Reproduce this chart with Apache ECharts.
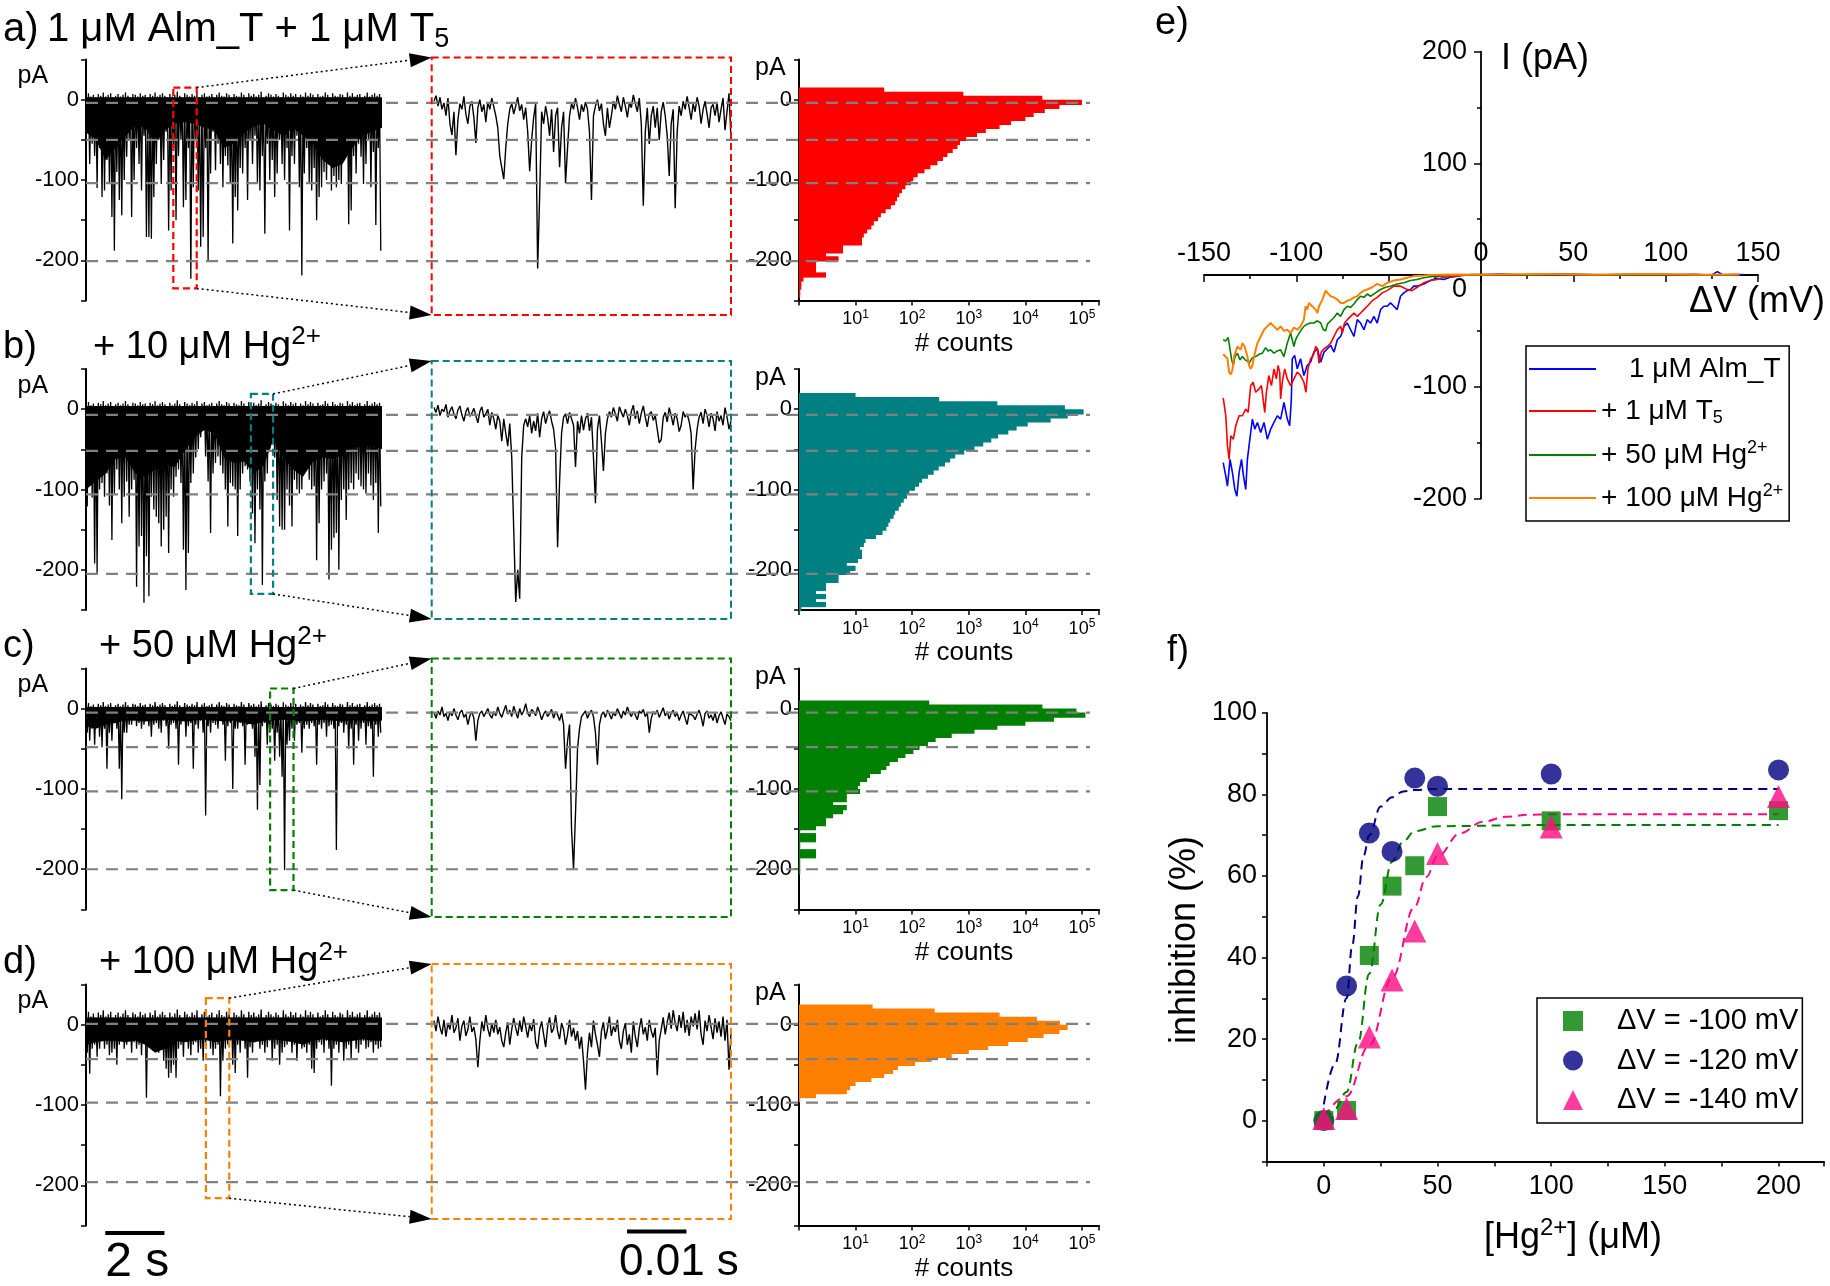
<!DOCTYPE html>
<html>
<head>
<meta charset="utf-8">
<title>Alm_T / Hg2+ traces</title>
<script src="https://cdn.jsdelivr.net/npm/echarts@6/dist/echarts.min.js"></script>
<style>
html, body { margin: 0; padding: 0; background: #fff; }
#main { width: 1830px; height: 1286px; }
</style>
</head>
<body>
<div id="main"></div>
<script>
var FONT = "'Liberation Sans', Arial, Helvetica, sans-serif";

// ---------- a-d : full 10 s traces (pA), 120 slots, top and bottom of each slot ----------
var hiA = [5,8,4,6,3,7,5,9,4,6,8,3,5,7,4,6,9,5,3,7, 6,4,8,5,6,3,7,5,9,4,6,8,5,3,7,4,6,10,5,3,
  8,6,4,7,5,9,3,6,8,4,5,7,3,6,9,5,4,8,6,3, 7,5,4,9,6,3,8,5,7,4,6,10,3,5,8,6,4,7,5,3,
  9,6,4,8,5,7,3,6,4,9,5,8,6,3,7,4,5,9,6,3, 8,5,4,7,6,3,9,5,8,4,6,7,3,5,9,4,6,8,5,7];
var loA = [-40,-80,-55,-70,-110,-60,-121,-113,-75,-105,-146,-188,-90,-125,-144,-100,-71,-50,-146,-100,
  -60,-80,-113,-45,-171,-171,-173,-121,-80,-50,-105,-75,-40,-163,-113,-60,-150,-70,-50,-134,
  -125,-60,-223,-109,-50,-113,-183,-171,-60,-202,-92,-40,-88,-55,-80,-109,-70,-82,-105,-179,
  -121,-138,-85,-92,-60,-125,-50,-80,-45,-105,-113,-70,-167,-55,-100,-75,-121,-92,-50,-80,
  -100,-60,-163,-70,-80,-45,-109,-219,-92,-60,-105,-113,-85,-150,-121,-109,-90,-100,-80,-113,
  -95,-109,-100,-105,-75,-60,-155,-138,-70,-92,-55,-71,-105,-80,-50,-109,-65,-156,-60,-188];
var hiB = [6,9,5,7,4,8,6,10,5,7,9,4,6,8,5,7,10,6,4,8, 7,5,9,6,7,4,8,6,10,5,7,9,6,4,8,5,7,11,6,4,
  9,7,5,8,6,10,4,7,9,5,6,8,4,7,10,6,5,9,7,4, 8,6,5,10,7,4,9,6,8,5,7,11,4,6,9,7,5,8,6,4,
  10,7,5,9,6,8,4,7,5,10,6,9,7,4,8,5,6,10,7,4, 9,6,5,8,7,4,10,6,9,5,7,8,4,6,10,5,7,9,6,8];
var loB = [-121,-90,-110,-192,-204,-100,-92,-109,-80,-120,-163,-105,-75,-100,-142,-109,-90,-134,-100,-88,
  -221,-171,-158,-241,-183,-233,-109,-125,-134,-142,-171,-150,-134,-179,-100,-109,-84,-75,-92,-175,
  -225,-179,-92,-80,-60,-50,-35,-26,-59,-90,-154,-80,-67,-59,-70,-80,-100,-146,-92,-96,
  -100,-158,-100,-80,-71,-75,-90,-130,-167,-100,-125,-219,-90,-80,-50,-26,-60,-113,-146,-150,
  -150,-100,-120,-146,-88,-100,-105,-100,-80,-75,-88,-100,-96,-188,-142,-100,-90,-80,-212,-175,
  -160,-154,-200,-113,-100,-138,-100,-92,-100,-80,-88,-96,-100,-105,-80,-95,-113,-92,-154,-121];
var hiC = [4,7,3,5,2,6,4,8,3,5,7,2,4,6,3,5,8,4,2,6, 5,3,7,4,5,2,6,4,8,3,5,7,4,2,6,3,5,9,4,2,
  7,5,3,6,4,8,2,5,7,3,4,6,2,5,8,4,3,7,5,2, 6,4,3,8,5,2,7,4,6,3,5,9,2,4,7,5,3,6,4,2,
  8,5,3,7,4,6,2,5,3,8,4,7,5,2,6,3,4,8,5,2, 7,4,3,6,5,2,8,4,7,3,5,6,2,4,8,3,5,7,4,6];
var loC = [-30,-40,-25,-45,-20,-35,-48,-25,-75,-30,-40,-18,-25,-75,-113,-30,-30,-20,-20,-15,
  -22,-18,-25,-20,-15,-22,-35,-20,-18,-25,-30,-15,-22,-50,-20,-18,-25,-70,-20,-15,
  -35,-22,-18,-75,-20,-25,-15,-30,-133,-22,-30,-18,-20,-25,-15,-20,-65,-22,-18,-100,
  -25,-25,-18,-22,-70,-20,-15,-25,-60,-126,-95,-22,-18,-45,-30,-25,-65,-30,-60,-85,
  -201,-45,-40,-25,-40,-20,-18,-55,-25,-20,-25,-18,-22,-70,-20,-25,-18,-35,-22,-20,
  -25,-176,-22,-18,-30,-20,-50,-25,-70,-20,-40,-25,-18,-45,-22,-25,-85,-20,-35,-30];
var hiD = [12,16,10,14,9,15,12,18,10,13,16,9,12,15,10,14,18,12,9,15, 13,10,16,12,14,9,15,12,18,10,13,16,12,9,15,10,14,19,12,9,
  16,13,10,15,12,18,9,13,16,10,12,15,9,13,18,12,10,16,13,9, 15,12,10,18,13,9,16,12,15,10,13,19,9,12,16,13,10,15,12,9,
  18,13,10,16,12,15,9,13,10,18,12,16,13,9,15,10,12,18,13,9, 16,12,10,15,13,9,18,12,16,10,13,15,9,12,18,10,13,16,12,15];
var loD = [-35,-61,-30,-25,-40,-30,-20,-30,-25,-38,-35,-30,-50,-25,-20,-30,-25,-20,-35,-22,
  -30,-25,-38,-20,-91,-28,-25,-30,-20,-35,-25,-45,-55,-66,-60,-50,-66,-30,-25,-40,
  -20,-30,-38,-25,-22,-35,-30,-45,-25,-20,-30,-38,-30,-25,-89,-45,-30,-25,-20,-50,
  -60,-25,-35,-20,-30,-66,-28,-35,-22,-20,-30,-25,-35,-28,-20,-45,-30,-25,-50,-35,
  -28,-25,-20,-35,-25,-45,-20,-30,-28,-35,-25,-55,-60,-30,-22,-25,-35,-20,-30,-76,
  -30,-25,-35,-20,-45,-30,-25,-42,-20,-30,-35,-25,-20,-30,-28,-22,-35,-25,-30,-28];
// solid core of each trace (lower edge, pA) every 1/3 s, and its upper edge
var coreA = [-41,-50,-75,-60,-45,-33,-35,-55,-38,-30,-28,-30,-35,-38,-60,-55,-42,-33,-30,-38,-45,-35,-45,-55,-75,-85,-80,-60,-45,-40,-35];
var coreB = [-100,-90,-80,-62,-60,-80,-84,-75,-70,-72,-52,-35,-26,-30,-60,-67,-65,-80,-70,-38,-60,-75,-84,-65,-60,-62,-58,-48,-46,-45,-50];
var coreC = [-22,-25,-20,-18,-15,-15,-16,-15,-14,-15,-16,-15,-14,-15,-16,-15,-18,-20,-16,-15,-14,-15,-16,-15,-14,-15,-16,-15,-15,-16,-15];
var coreD = [-25,-22,-20,-20,-22,-20,-25,-35,-30,-20,-22,-20,-18,-22,-20,-18,-20,-22,-20,-18,-20,-22,-25,-20,-18,-20,-22,-20,-18,-20,-20];
var coreTop = [3, 4, 2, 9];

// ---------- zoomed 0.05 s windows (pA) ----------
var zoomA = [-2,5,-8,3,-12,-4,-20,2,-30,-44,-15, -69,-25,-5,-12,4,-18,-30,-8,-2,-22,
  -54,-10,0,-15,-6,-28,-3,-12,2,-9, -20,-35,-70,-85,-99,-60,-30,-12,-5,-18,
  -8,3,-14,-6,-25,-10,-40,-89,-50,-22, -5,-210,-120,-15,-30,-8,-22,-45,-12,-65,
  -20,-10,-84,-35,-15,-104,-60,-20,-5,-12, 2,-10,-25,-6,-15,-3,-12,-40,-125,-20,
  -8,0,-14,-5,-30,-45,-10,-35,-20,-2, -12,5,-6,-15,3,-8,-22,-4,-10,6,
  -5,-15,2,-30,-132,-40,-10,-55,-20,-8, -35,-10,-50,-15,-3,-20,-45,-95,-30,-12,
  -135,-40,-8,-20,-2,-12,4,-10,-25,-5, -15,3,-8,-30,-12,-2,-18,-35,-10,-6,
  -20,-4,-28,-12,2,-38,-15,8,-49];
var zoomB = [2,-4,5,-8,0,-3,6,-10,-2,3,-6, -12,-1,4,-7,-15,-3,2,-9,-5,1,
  -8,-17,-3,3,-10,-6,0,-20,-4,-12, -25,-8,-15,-40,-12,-30,-46,-18,-60,-150,
  -240,-200,-236,-60,-20,-12,-22,-8,-30,-15, -27,-5,-35,-12,-3,-18,-8,-2,-15,-25,
  -49,-172,-90,-30,-10,-6,-18,-4,-12,-20, -72,-15,-30,-8,-26,-12,-5,-27,-10,-60,
  -117,-25,-8,-40,-77,-30,-12,-3,-10,2, -6,-15,3,-4,-10,0,-8,-20,-3,5,
  -12,-2,-18,-5,4,-10,-22,-6,-3,-14, -8,-25,-42,-38,-10,-4,-16,2,-8,-20,
  -5,-12,-28,-20,-3,-10,-6,-15,-30,-100, -50,-25,-10,-4,-18,0,-8,-22,-5,-12,
  -27,-3,-15,-8,-20,2,-10,-25,-15];
var zoomC = [-5,-12,-3,-8,2,-10,-6,-15,-4,-9,0, -8,-14,-5,-2,-11,-7,-20,-9,-4,-12,
  -40,-15,-6,-3,-10,-5,0,-8,-12,-4, -9,2,-6,-11,-3,4,-7,-2,-10,3,
  -5,-12,0,-8,-3,6,-6,-10,-1,-4, -9,2,-5,-14,-7,-3,-10,-6,-1,-12,
  -4,-8,-15,-6,-20,-75,-40,-20,-150,-200, -130,-50,-25,-10,-8,-3,-12,-6,-2,-10,
  -30,-70,-20,-8,-4,-11,-2,-7,-13,-5, -9,0,-6,-12,-3,-8,2,-5,-10,-4,
  -8,-14,-3,-6,-1,-10,-5,-30,-12,-4, -7,-2,-11,-5,1,-9,-4,-13,-6,-2,
  -10,-5,-15,-8,-3,-12,-20,-6,-4,-9, -14,-7,-2,-10,-22,-6,-3,-12,-8,-15,
  -5,-18,-9,-4,-12,-20,-7,-10,-15];
var zoomD = [5,-8,10,-3,-12,6,-15,2,-6,12,-10, -4,8,-20,-2,5,-14,-6,10,-9,-3,
  -18,-53,-20,4,-8,12,-5,-15,2,-10, 6,-12,-3,-20,-28,-10,3,-25,-6,8,
  -4,-14,5,-9,10,-2,-16,0,-8,7, -22,-30,-6,4,-12,-28,-3,9,-10,-5,
  12,-8,-18,2,-6,-25,-12,6,-15,-4, -20,-8,-30,-15,-45,-81,-35,-10,-28,5,
  -12,-25,-40,-8,3,-18,-6,10,-14,-2, -9,6,-20,-30,-8,2,-25,-12,-35,4,
  -15,-28,-5,8,-12,-3,-20,6,-8,-16, -4,-63,-20,-6,9,-12,3,15,-5,18,
  2,-8,12,-4,16,-10,6,-14,10,-2, 14,-6,18,-12,-25,5,-8,12,-3,-18,
  8,-10,4,-15,10,-20,6,-56,-10];

// ---------- all-points histograms: bin centres (pA) and counts ----------
var binPA = [22.5,17.5,12.5,7.5,2.5,-2.5,-7.5,-12.5,-17.5,-22.5,-27.5,-32.5,-37.5,-42.5,-47.5,-52.5,-57.5,-62.5,-67.5,
  -72.5,-77.5,-82.5,-87.5,-92.5,-97.5,-102.5,-107.5,-112.5,-117.5,-122.5,-127.5,-132.5,-137.5,-142.5,-147.5,-152.5,
  -157.5,-162.5,-167.5,-172.5,-177.5,-182.5,-187.5,-192.5,-197.5,-202.5,-207.5,-212.5,-217.5,-222.5,-227.5,-232.5,
  -237.5,-242.5,-247.5];
var countsA = [1,1,32,800,20000,100000,40000,22000,14000,10000,5600,3500,2000,1400,900,700,630,520,420,350,
  280,210,165,125,105,95,76,66,59,54,50,42,34,28,25,21,19,16,14,13,13,6,6,3,5,2,2,2,3,1.2,1.1,1.1,1.05,1.05,1];
var countsB = [1,10,300,3200,50000,107000,56000,28000,11000,7000,5000,3300,2500,1800,1260,830,575,470,380,295,
  240,190,150,132,112,89,81,71,63,58,50,47,41,38,35,30,23,15,14,12,13,13,11,7,10,8,5,5,3,3,2,3,2,3,1.1];
var countsC = [1,1,1,200,20000,80000,115000,32000,10000,3200,1260,500,260,190,135,105,76,56,40,35,
  28,18,16,12,11,12,7,7,4,7,6,4,3,3,2,1.05,2,2,1.05,1.05,2,2,1.05,1.05,1.05,1.05,1,1,1,1,1,1,1,1,1];
var countsD = [20,250,3500,16000,41000,56000,40000,21000,11000,5000,2200,1000,500,220,112,56,46,32,19,10,
  8,7,2,1.05,1,1,1,1,1,1,1,1,1,1,1,1,1,1,1,1,1,1,1,1,1,1,1,1,1,1,1,1,1,1,1];

// dashed reference levels (pA) and zoom windows [t0, t1, top pA, bottom pA] for each row
var levels = [[-4, -50, -104, -201], [-7, -52, -106, -205], [-5, -48, -103, -200], [1, -43, -97, -196]];
var zoomWin = [[2.95, 3.74, 15, -235], [5.57, 6.32, 19, -230], [6.22, 7.01, 25, -226], [4.05, 4.84, 33, -216]];

// ---------- e) I-V curves [mV, pA] ----------
var ivBlue = [[-139.6,-168],[-138.2,-180],[-137.3,-189],[-135.9,-165],[-134.6,-177],[-133.3,-192],[-132.2,-198],[-131,-177],
  [-129.7,-165],[-128.6,-180],[-127.4,-192],[-126.5,-165],[-125.4,-150],[-123.8,-129],[-122.5,-138],[-121.1,-132],
  [-119.3,-141],[-117.5,-132],[-115.7,-147],[-113.9,-138],[-112.1,-132],[-110.3,-126],[-108.5,-129],[-106.7,-114],
  [-104.9,-129],[-103.6,-135],[-102.7,-111],[-102.2,-75],[-100.9,-72],[-99.5,-84],[-97.7,-75],[-95.9,-90],[-94.1,-81],
  [-92.3,-78],[-90.5,-69],[-88.6,-66],[-86.8,-78],[-85,-69],[-83.2,-66],[-81.4,-63],[-79.6,-69],[-77.8,-58],[-76,-55],
  [-74.2,-46],[-72.4,-43],[-70.6,-49],[-68.8,-55],[-67,-40],[-65.2,-43],[-63.4,-49],[-61.6,-40],[-59.8,-43],[-58,-37],
  [-56.2,-43],[-54.4,-31],[-52.6,-28],[-50.8,-28],[-49,-25],[-47.2,-28],[-45.4,-31],[-43.6,-19],[-41.8,-16],[-40,-14],
  [-38.2,-13],[-36.4,-10],[-34.6,-10],[-31,-8],[-27.4,-5],[-23.8,-3],[-20.2,-4],[-16.6,-2],[-13,-1],[-10,-0.5],[-5,0.5],
  [0,0],[10,0.8],[25,0],[40,0.6],[60,0],[80,0.7],[100,0],[115,0.6],[125,0],[128,3],[131,0],[142,0.5]];
var ivRed = [[-139.6,-110],[-138.2,-126],[-137.3,-153],[-136.4,-165],[-135.5,-144],[-134.1,-147],[-132.8,-135],[-131,-126],
  [-129.2,-126],[-127.4,-120],[-126.1,-123],[-124.7,-99],[-123.4,-96],[-122,-105],[-120.2,-102],[-118.9,-99],[-117.1,-123],
  [-116.2,-105],[-114.9,-90],[-113.5,-99],[-112.1,-84],[-110.8,-93],[-109.9,-81],[-109,-87],[-108.5,-111],[-107.6,-96],
  [-106.3,-84],[-104.9,-93],[-103.1,-99],[-101.3,-93],[-99.5,-87],[-97.7,-90],[-95.9,-96],[-94.8,-105],[-93.7,-84],
  [-92.3,-75],[-90.8,-72],[-89.5,-64],[-88.6,-66],[-87.7,-79],[-86.5,-69],[-85,-66],[-83.2,-64],[-81.4,-61],[-79.6,-55],
  [-77.8,-49],[-76,-46],[-75.1,-52],[-73.9,-43],[-72.4,-40],[-70.6,-37],[-68.8,-34],[-67,-37],[-65.2,-34],[-63.4,-31],
  [-61.6,-28],[-58.9,-23],[-56.2,-20],[-53.5,-16],[-50.8,-14],[-47.2,-10],[-43.6,-10],[-40,-13],[-37.3,-14],[-34.6,-11],
  [-31,-7],[-27.4,-5],[-23.8,-4],[-20.2,-2],[-16.6,-1.5],[-13,-1],[-10,0],[0,0.5],[20,0],[45,0.7],[70,0],[95,0.6],
  [120,0],[140,0.4]];
var ivGreen = [[-139.6,-58],[-138.2,-59],[-136.9,-56],[-135.9,-55],[-135,-76],[-134.1,-81],[-133.2,-73],[-131.9,-70],
  [-130.5,-76],[-129.2,-73],[-127.7,-76],[-126.5,-77],[-125.6,-79],[-123.8,-74],[-122,-73],[-120.2,-71],[-118.4,-70],
  [-116.6,-65],[-115.3,-68],[-113.9,-67],[-112.1,-70],[-110.3,-68],[-108.5,-67],[-106.7,-73],[-104.9,-61],[-103.1,-52],
  [-101.3,-64],[-100.4,-58],[-99.5,-55],[-97.7,-50],[-95.9,-46],[-94.1,-44],[-92.3,-43],[-90.5,-43],[-88.6,-41],
  [-86.8,-43],[-85.4,-49],[-84.1,-50],[-83.2,-44],[-81.4,-41],[-79.6,-38],[-77.8,-34],[-76,-37],[-74.2,-31],[-72.4,-28],
  [-70.6,-29],[-68.8,-26],[-67,-22],[-65.2,-19],[-63.4,-20],[-61.6,-17],[-59.8,-19],[-57.1,-16],[-54.4,-13],[-51.7,-11],
  [-49,-10],[-45.4,-8],[-41.8,-7],[-38.2,-5],[-34.6,-4],[-31,-2.5],[-27.4,-1.5],[-22,-1],[-16.6,-0.3],[-13,0],[0,0.5],
  [25,0],[50,0.7],[75,0],[100,0.5],[125,0],[138,0.3]];
var ivOrange = [[-139.6,-71],[-138.6,-72],[-137.3,-75],[-136.4,-87],[-135.5,-89],[-134.6,-85],[-133.7,-73],[-131.9,-64],
  [-130.1,-67],[-129.2,-61],[-128,-64],[-126.5,-73],[-125.6,-81],[-124.7,-84],[-123.8,-81],[-122.9,-73],[-122,-67],
  [-121.1,-61],[-119.3,-55],[-117.5,-49],[-115.7,-46],[-113.9,-43],[-112.1,-46],[-110.3,-49],[-108.5,-46],[-106.7,-50],
  [-104.9,-49],[-103.1,-52],[-101.3,-47],[-99.5,-49],[-97.7,-46],[-95.9,-40],[-95,-28],[-94.1,-31],[-93.2,-25],
  [-91.4,-28],[-89.5,-31],[-88.6,-34],[-87.7,-28],[-85.9,-22],[-84.1,-14],[-83.2,-16],[-81.4,-19],[-79.6,-20],
  [-77.8,-22],[-76,-25],[-74.2,-25],[-72.4,-23],[-70.6,-22],[-68.8,-20],[-67,-19],[-65.2,-16],[-63.4,-14],[-61.6,-13],
  [-58.9,-11],[-56.2,-8],[-53.5,-10],[-50.8,-7],[-47.2,-5],[-43.6,-4],[-40,-2.5],[-36.4,-1],[-31,-0.5],[-28,0],
  [-15,0.5],[0,0.3],[30,0.8],[60,0.2],[90,0.8],[120,0.2],[140,0.5]];

// ---------- f) inhibition vs [Hg2+] ----------
var hgConc = [0, 10, 20, 30, 40, 50, 100, 200];
var inh100 = [0, 2.5, 40.5, 57.5, 62.5, 77, 73.5, 76];
var inh120 = [0, 33, 70.5, 66, 84, 82, 85, 86];
var inh140 = [0.5, 3, 20.5, 34.5, 46.5, 65.5, 72, 79.5];
var fit100 = [[0,1],[5,3],[10,7],[15,19],[20,36],[25,53],[30,63.5],[35,68.5],[40,71],[50,72.2],[100,72.5],[200,72.5]];
var fit120 = [[0,4],[5,14],[10,30],[12.5,43],[15,55],[17.5,65],[20,70],[25,77],[30,79.3],[35,80.7],[40,81.1],[50,81.3],[100,81.3],[200,81.3]];
var fit140 = [[0,1],[10,6],[20,18.5],[30,35],[40,52.5],[45,59.7],[50,64.8],[60,70.5],[70,73.3],[80,74.5],[90,75],[100,75.1],[200,75.1]];

// ---------- layout ----------
var rowTop = [59.5, 369, 668.4, 984.5];
var rowH = 241;
var traceLeft = 86, traceW = 296;
var zoomLeft = 434, zoomW = 297;
var histLeft = 799, histW = 300;
var binW = 5;
var rowColor = ['#ff0000', '#008080', '#008000', '#ff8000'];
var bigBox = [[431.7, 57.4, 731, 315], [431.7, 361, 731, 619], [431.7, 658.6, 731, 917], [431.7, 964, 731, 1219]];
// panel e box and value ranges
var eBox = {left: 1204, top: 51.6, width: 554, height: 446.8};
var eX = [-150, 150], eY = [-200, 200];

var his = [hiA, hiB, hiC, hiD], los = [loA, loB, loC, loD];
var cores = [coreA, coreB, coreC, coreD];
var zooms = [zoomA, zoomB, zoomC, zoomD];
var counts = [countsA, countsB, countsC, countsD];

var grids = [], xAxes = [], yAxes = [], series = [];

function pAAxis(g) {
    return {
        gridIndex: g, type: 'value', min: -250, max: 50, interval: 50,
        axisLine: {show: true, onZero: false, lineStyle: {color: '#000', width: 2}},
        axisTick: {show: true, length: 5, lineStyle: {color: '#000', width: 1.5}},
        axisLabel: {fontSize: 22, color: '#000', fontFamily: FONT, margin: 7,
            formatter: function (v) { return (v % 100 === 0 && v > -250) ? String(v) : ''; }},
        splitLine: {show: false}
    };
}

// interleave slot tops and bottoms along the 10 s time axis
function traceData(hi, lo) {
    var out = [], n = lo.length, dt = 10 / n;
    for (var k = 0; k < n; k++) {
        out.push([k * dt, hi[k]]);
        out.push([(k + 0.5) * dt, lo[k]]);
    }
    return out;
}

function zoomData(v) {
    return v.map(function (y, i) { return [i * 0.05 / (v.length - 1), y]; });
}

function coreData(c) {
    return c.map(function (y, j) { return [j * 10 / (c.length - 1), y]; });
}

for (var r = 0; r < 4; r++) {
    var g = r * 3;
    grids.push({left: traceLeft, top: rowTop[r], width: traceW, height: rowH, containLabel: false, outerBoundsMode: 'none'});
    grids.push({left: zoomLeft, top: rowTop[r], width: zoomW, height: rowH, containLabel: false, outerBoundsMode: 'none'});
    grids.push({left: histLeft, top: rowTop[r], width: histW, height: rowH, containLabel: false, outerBoundsMode: 'none'});

    xAxes.push({gridIndex: g, type: 'value', min: 0, max: 10, show: false});
    yAxes.push(pAAxis(g));
    xAxes.push({gridIndex: g + 1, type: 'value', min: 0, max: 0.05, show: false});
    yAxes.push({gridIndex: g + 1, type: 'value', min: -250, max: 50, show: false});
    xAxes.push({
        gridIndex: g + 2, type: 'log', logBase: 10, min: 1, max: 200000,
        axisLine: {show: true, onZero: false, lineStyle: {color: '#000', width: 2}},
        axisTick: {show: true, length: 5, lineStyle: {color: '#000', width: 1.5}},
        axisLabel: {fontSize: 18, color: '#000', fontFamily: FONT, margin: 8,
            formatter: function (v) {
                var e = Math.log(v) / Math.LN10;
                if (Math.abs(e - Math.round(e)) > 1e-6 || Math.round(e) < 1) return '';
                return '10{s|' + Math.round(e) + '}';
            },
            rich: {s: {fontSize: 12, fontFamily: FONT, color: '#000', padding: [0, 0, 10, 0]}}},
        splitLine: {show: false},
        name: '# counts', nameLocation: 'middle', nameGap: 30,
        nameTextStyle: {fontSize: 26, color: '#000', fontFamily: FONT, padding: [0, 0, 0, 30]}
    });
    yAxes.push(pAAxis(g + 2));

    series.push({
        name: 'core' + r, type: 'line', xAxisIndex: g, yAxisIndex: g, data: coreData(cores[r]),
        symbol: 'none', silent: true, lineStyle: {width: 0}, areaStyle: {color: '#000', opacity: 1, origin: coreTop[r]}, z: 1
    });
    series.push({
        name: 'trace' + r, type: 'line', xAxisIndex: g, yAxisIndex: g, data: traceData(his[r], los[r]),
        symbol: 'none', silent: true, lineStyle: {color: '#000', width: 1.3}, z: 2
    });
    series.push({
        name: 'zoom' + r, type: 'line', xAxisIndex: g + 1, yAxisIndex: g + 1, data: zoomData(zooms[r]),
        symbol: 'none', silent: true, lineStyle: {color: '#000', width: 1.4}, z: 2
    });
    (function (cnt, color) {
        series.push({
            name: 'hist' + r, type: 'custom', xAxisIndex: g + 2, yAxisIndex: g + 2, silent: true,
            data: binPA.map(function (c, i) { return [cnt[i], c]; }),
            encode: {x: 0, y: 1},
            renderItem: function (params, api) {
                var n = api.value(0), c = api.value(1);
                if (n <= 1) return {type: 'group', children: []};
                var p0 = api.coord([1, c + binW / 2]);
                var p1 = api.coord([n, c - binW / 2]);
                return {type: 'rect', shape: {x: p0[0], y: p0[1], width: p1[0] - p0[0], height: p1[1] - p0[1] + 1.2},
                    style: {fill: color}};
            }
        });
    })(counts[r], rowColor[r]);
}

// e) grid 12 holds the curves; grids 14/15 carry the axes crossing at (0, 0)
grids.push({left: eBox.left, top: eBox.top, width: eBox.width, height: eBox.height, containLabel: false, outerBoundsMode: 'none'});
xAxes.push({gridIndex: 12, type: 'value', min: eX[0], max: eX[1], show: false});
yAxes.push({gridIndex: 12, type: 'value', min: eY[0], max: eY[1], show: false});
var ivNames = ['1 μM Alm_T', '+ 1 μM T5', '+ 50 μM Hg2+', '+ 100 μM Hg2+'];
var ivLabels = {'1 μM Alm_T': '\u2002\u20021 μM Alm_T', '+ 1 μM T5': '+ 1 μM T{sub|5}',
    '+ 50 μM Hg2+': '+ 50 μM Hg{sup|2+}', '+ 100 μM Hg2+': '+ 100 μM Hg{sup|2+}'};
var ivColors = ['#0000ff', '#ff0000', '#008000', '#ff8000'];
[ivBlue, ivRed, ivGreen, ivOrange].forEach(function (d, i) {
    series.push({
        name: ivNames[i], type: 'line', xAxisIndex: 12, yAxisIndex: 12, data: d, symbol: 'none', showSymbol: false,
        silent: true, color: ivColors[i], lineStyle: {width: i === 3 ? 2 : 1.6}, z: 3 + i
    });
});

// f) grid 13
grids.push({left: 1267, top: 712.8, width: 557, height: 448.6, containLabel: false, outerBoundsMode: 'none'});
xAxes.push({
    gridIndex: 13, type: 'value', min: -25, max: 220, interval: 25,
    axisLine: {show: true, onZero: false, lineStyle: {color: '#000', width: 1.8}},
    axisTick: {show: true, length: 5, lineStyle: {color: '#000', width: 1.5}},
    axisLabel: {margin: 12, fontSize: 27, color: '#000', fontFamily: FONT,
        formatter: function (v) { return v % 50 === 0 ? String(v) : ''; }},
    splitLine: {show: false}
});
yAxes.push({
    gridIndex: 13, type: 'value', min: -10, max: 100, interval: 10,
    axisLine: {show: true, onZero: false, lineStyle: {color: '#000', width: 1.8}},
    axisTick: {show: true, length: 5, lineStyle: {color: '#000', width: 1.5}},
    axisLabel: {margin: 10, fontSize: 27, color: '#000', fontFamily: FONT,
        formatter: function (v) { return (v >= 0 && v % 20 === 0) ? String(v) : ''; }},
    splitLine: {show: false}
});
var fColors = {m100: '#008000', m120: '#000080', m140: '#ff0a84'};
[[fit100, fColors.m100], [fit120, fColors.m120], [fit140, fColors.m140]].forEach(function (f, i) {
    series.push({
        name: 'fit' + i, type: 'line', xAxisIndex: 13, yAxisIndex: 13, data: f[0], symbol: 'none', silent: true,
        smooth: 0.4, smoothMonotone: 'x', lineStyle: {color: f[1], width: 2, type: [9, 6]}, z: 2
    });
});
series.push({
    name: 'ΔV = -120 mV', type: 'scatter', xAxisIndex: 13, yAxisIndex: 13, symbol: 'circle', symbolSize: 21,
    data: hgConc.map(function (x, i) { return [x, inh120[i]]; }), itemStyle: {color: fColors.m120}, z: 4
});
series.push({
    name: 'ΔV = -100 mV', type: 'scatter', xAxisIndex: 13, yAxisIndex: 13, symbol: 'rect', symbolSize: 19,
    data: hgConc.map(function (x, i) { return [x, inh100[i]]; }), itemStyle: {color: fColors.m100}, z: 5
});
series.push({
    name: 'ΔV = -140 mV', type: 'scatter', xAxisIndex: 13, yAxisIndex: 13, symbol: 'triangle', symbolSize: 23,
    data: hgConc.map(function (x, i) { return [x, inh140[i]]; }), itemStyle: {color: fColors.m140}, z: 6
});

// e) axis carriers: x axis along pA = 0, y axis along mV = 0
var eY0 = eBox.top + eBox.height * (eY[1] - 0) / (eY[1] - eY[0]);
var eX0 = eBox.left + eBox.width * (0 - eX[0]) / (eX[1] - eX[0]);
grids.push({left: eBox.left, top: eBox.top, width: eBox.width, height: eY0 - eBox.top, containLabel: false, outerBoundsMode: 'none'});
xAxes.push({
    gridIndex: 14, type: 'value', min: eX[0], max: eX[1], interval: 50, position: 'bottom',
    axisLine: {show: true, onZero: false, lineStyle: {color: '#000', width: 1.8}},
    axisTick: {show: true, length: 7, lineStyle: {color: '#000', width: 1.5}},
    minorTick: {show: true, splitNumber: 2, length: 4, lineStyle: {color: '#000', width: 1.5}},
    axisLabel: {inside: true, margin: 8, fontSize: 27, color: '#000', fontFamily: FONT},
    splitLine: {show: false}, minorSplitLine: {show: false}
});
yAxes.push({gridIndex: 14, type: 'value', min: 0, max: 1, show: false});
grids.push({left: eX0, top: eBox.top, width: eBox.left + eBox.width - eX0, height: eBox.height, containLabel: false, outerBoundsMode: 'none'});
xAxes.push({gridIndex: 15, type: 'value', min: 0, max: 1, show: false});
yAxes.push({
    gridIndex: 15, type: 'value', min: eY[0], max: eY[1], interval: 100, position: 'left',
    axisLine: {show: true, onZero: false, lineStyle: {color: '#000', width: 1.8}},
    axisTick: {show: true, length: 7, lineStyle: {color: '#000', width: 1.5}},
    minorTick: {show: true, splitNumber: 2, length: 4, lineStyle: {color: '#000', width: 1.5}},
    axisLabel: {margin: 14, fontSize: 27, color: '#000', fontFamily: FONT,
        formatter: function (v) { return v === 0 ? '{z|0}' : String(v); },
        rich: {z: {fontSize: 27, fontFamily: FONT, color: '#000', padding: [30, 0, 0, 0]}}},
    splitLine: {show: false}, minorSplitLine: {show: false}
});

var subSup = {
    sub: {fontSize: 18, fontFamily: FONT, color: '#000', padding: [14, 0, 0, 0]},
    sup: {fontSize: 18, fontFamily: FONT, color: '#000', padding: [0, 0, 14, 0]}
};

var option = {
    animation: false,
    backgroundColor: '#fff',
    grid: grids,
    xAxis: xAxes,
    yAxis: yAxes,
    series: series,
    legend: [{
        data: ivNames.map(function (n) { return {name: n, icon: 'rect'}; }),
        orient: 'vertical', left: 1526, top: 346, itemWidth: 67, itemHeight: 2, itemGap: 12,
        padding: [8, 6, 8, 3], borderColor: '#000', borderWidth: 1.5, backgroundColor: '#fff', selectedMode: false,
        textStyle: {fontSize: 28, fontFamily: FONT, color: '#000', lineHeight: 30, rich: subSup},
        formatter: function (name) { return ivLabels[name]; }
    }, {
        data: ['ΔV = -100 mV', 'ΔV = -120 mV', 'ΔV = -140 mV'], orient: 'vertical', left: 1537, top: 998,
        itemWidth: 20, itemHeight: 20, itemGap: 9.5, padding: [8, 4, 8, 26], borderColor: '#000', borderWidth: 1.5,
        backgroundColor: '#fff', selectedMode: false,
        textStyle: {fontSize: 29, fontFamily: FONT, color: '#000', lineHeight: 30},
        formatter: function (name) { return '\u2003' + name; }
    }]
};

var chart = echarts.init(document.getElementById('main'));
chart.setOption(option);

// ---------- annotations placed through the axes ----------
function txt(text, x, y, size, align, extra) {
    var el = {
        type: 'text', x: x, y: y, z: 120, silent: true,
        style: {text: text, fontSize: size, fontFamily: FONT, fill: '#000',
            align: align || 'left', textAlign: align || 'left', verticalAlign: 'middle', textVerticalAlign: 'middle',
            rich: {
                sub: {fontSize: Math.round(size * 0.68), fontFamily: FONT, fill: '#000', padding: [Math.round(size * 0.5), 0, 0, 0]},
                sup: {fontSize: Math.round(size * 0.68), fontFamily: FONT, fill: '#000', padding: [0, 0, Math.round(size * 0.55), 0]}
            }}
    };
    if (extra) for (var k in extra) el[k] = extra[k];
    return el;
}

function arrow(x1, y1, x2, y2) {
    var dx = x2 - x1, dy = y2 - y1, L = Math.sqrt(dx * dx + dy * dy), ux = dx / L, uy = dy / L;
    var hl = 22, hw = 7, bx = x2 - ux * hl, by = y2 - uy * hl;
    return [
        {type: 'line', z: 110, silent: true, shape: {x1: x1, y1: y1, x2: bx, y2: by},
            style: {stroke: '#000', lineWidth: 1.5, lineDash: [2, 3]}},
        {type: 'polygon', z: 110, silent: true,
            shape: {points: [[x2, y2], [bx - uy * hw, by + ux * hw], [bx + uy * hw, by - ux * hw]]},
            style: {fill: '#000'}}
    ];
}

var gfx = [];
var titles = [['a)', '1 μM Alm_T + 1 μM T{sub|5}', 29.5, 47, 40], ['b)', '+ 10 μM Hg{sup|2+}', 347.5, 93, 38],
    ['c)', '+ 50 μM Hg{sup|2+}', 647, 99, 38], ['d)', '+ 100 μM Hg{sup|2+}', 963, 99, 38]];
for (var r2 = 0; r2 < 4; r2++) {
    var gi = r2 * 3;
    levels[r2].forEach(function (lv) {
        var y = chart.convertToPixel({gridIndex: gi}, [0, lv])[1];
        gfx.push({type: 'line', z: 100, silent: true, shape: {x1: traceLeft, y1: y, x2: histLeft + histW - 9, y2: y},
            style: {stroke: '#808080', lineWidth: 2.2, lineDash: [12, 8]}});
    });
    var w = zoomWin[r2];
    var p0 = chart.convertToPixel({gridIndex: gi}, [w[0], w[2]]);
    var p1 = chart.convertToPixel({gridIndex: gi}, [w[1], w[3]]);
    gfx.push({type: 'rect', z: 105, silent: true, shape: {x: p0[0], y: p0[1], width: p1[0] - p0[0], height: p1[1] - p0[1]},
        style: {fill: 'none', stroke: rowColor[r2], lineWidth: 2.2, lineDash: [7, 4]}});
    var B = bigBox[r2];
    gfx.push({type: 'rect', z: 105, silent: true, shape: {x: B[0], y: B[1], width: B[2] - B[0], height: B[3] - B[1]},
        style: {fill: 'none', stroke: rowColor[r2], lineWidth: 2, lineDash: [7, 4]}});
    gfx = gfx.concat(arrow(p1[0], p0[1], B[0], B[1]));
    gfx = gfx.concat(arrow(p1[0], p1[1], B[0], B[3]));

    var T = titles[r2];
    gfx.push(txt(T[0], 3, T[2], T[4]));
    gfx.push(txt(T[1], T[3], T[2], T[4]));
    gfx.push(txt('pA', 17.5, rowTop[r2] + 17, 25));
    gfx.push(txt('pA', 755, rowTop[r2] + 9, 25));
}

// scale bars on row d
var s0 = chart.convertToPixel({gridIndex: 9}, [0.65, 0]), s1 = chart.convertToPixel({gridIndex: 9}, [2.65, 0]);
gfx.push({type: 'rect', z: 100, silent: true, shape: {x: s0[0], y: 1231, width: s1[0] - s0[0], height: 4}, style: {fill: '#000'}});
gfx.push(txt('2 s', s0[0], 1263, 48));
var z0 = chart.convertToPixel({gridIndex: 10}, [0.0325, 0]), z1 = chart.convertToPixel({gridIndex: 10}, [0.0425, 0]);
gfx.push({type: 'rect', z: 100, silent: true, shape: {x: z0[0], y: 1229.5, width: z1[0] - z0[0], height: 4}, style: {fill: '#000'}});
gfx.push(txt('0.01 s', 619, 1263, 44));

// e) and f) labels
gfx.push(txt('e)', 1155, 24, 38));
gfx.push(txt('I (pA)', 1545, 59, 36, 'center'));
gfx.push(txt('ΔV (mV)', 1757, 302, 36, 'center'));
gfx.push(txt('f)', 1167, 651, 36));
gfx.push(txt('inhibition (%)', 1185, 940, 36, 'center', {rotation: Math.PI / 2}));
gfx.push(txt('[Hg{sup|2+}] (μM)', 1573, 1238, 36, 'center'));

chart.setOption({graphic: gfx});
</script>
</body>
</html>
